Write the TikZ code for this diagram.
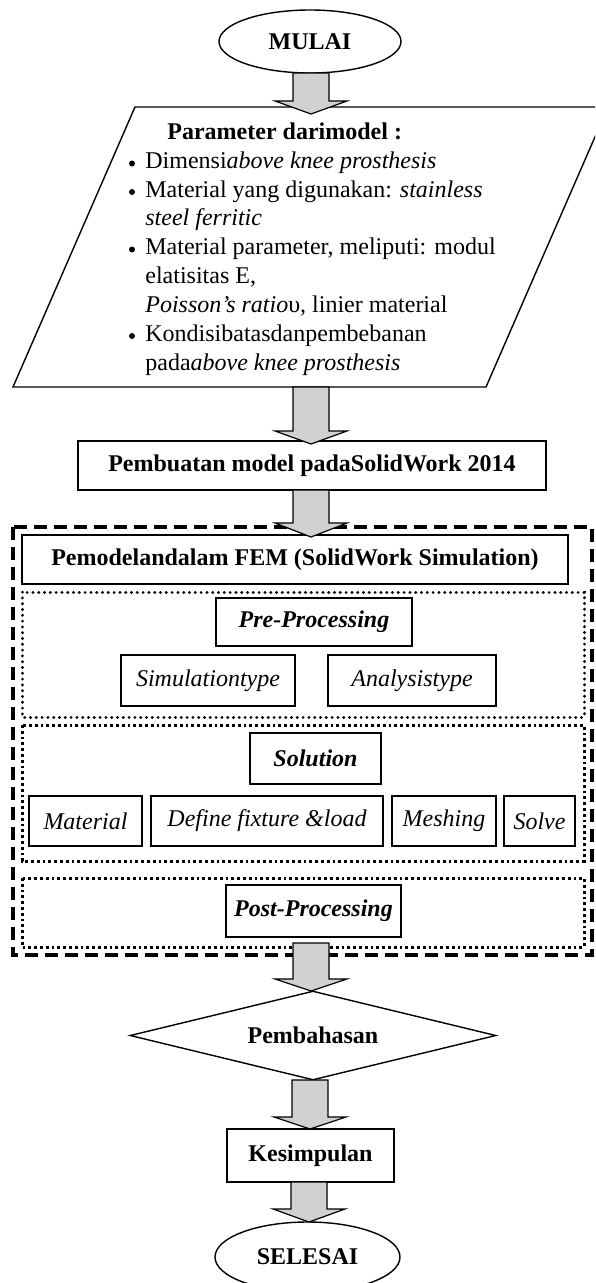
\documentclass[tikz,border=0pt]{standalone}
\usepackage{fontspec}
\setmainfont{Liberation Serif}
\usetikzlibrary{shapes.geometric}
\tikzset{
  x=0.5pt, y=-0.5pt,
  fat/.style={draw, line width=0.6pt, fill=black!18},
  boxline/.style={draw, line width=0.7pt, inner sep=0pt},
  proc/.style={boxline, font=\fontsize{12}{14}\selectfont\bfseries},
  iproc/.style={boxline, font=\fontsize{12}{14}\selectfont\itshape},
  biproc/.style={boxline, font=\fontsize{12}{14}\selectfont\bfseries\itshape},
  term/.style={draw, ellipse, line width=0.7pt, inner sep=0pt, font=\fontsize{12}{14}\selectfont\bfseries},
  lbl/.style={font=\fontsize{12}{14}\selectfont, anchor=base west, inner sep=0pt},
  dashbox/.style={line width=1.6pt, dash pattern=on 6.5pt off 3.5pt},
  rounddots/.style={line width=1.5pt, line cap=round, dash pattern=on 0.1pt off 2.8pt},
  squaredots/.style={line width=1.5pt, dash pattern=on 1.4pt off 1.5pt},
}
% x, y start, y of wings, y tip
\newcommand{\fatarrow}[4]{%
  \draw[fat] (#1-18,#2) -- (#1+18,#2) -- (#1+18,#3) -- (#1+36,#3) -- (#1,#4) -- (#1-36,#3) -- (#1-18,#3) -- cycle;}
\begin{document}
\begin{tikzpicture}
\useasboundingbox (0,0) rectangle (595,1283);
\clip (0,0) rectangle (595,1283);
% start
\node[term, minimum width=91pt, minimum height=31.5pt] (mulai) at (310,41.5) {MULAI};
% parallelogram
\coordinate (pTL) at (135,107);
\coordinate (pTR) at (608,107);
\coordinate (pBR) at (486,387);
\coordinate (pBL) at (13,387);
\draw[line width=0.7pt, fill=white] (pTL) -- (pTR) -- (pBR) -- (pBL) -- cycle;
\node[lbl, font=\fontsize{12}{14}\selectfont\bfseries] (ptitle) at (167,140) {Parameter darimodel :};
\foreach \yy/\tx/\b in {
  162/{Dimensi\textit{above knee prosthesis}}/1,
  190.5/{Material yang digunakan: \textit{stainless}}/1,
  219/{\textit{steel ferritic}}/0,
  248/{Material parameter, meliputi: modul}/1,
  276.5/{elatisitas E,}/0,
  305.5/{\textit{Poisson’s ratio}υ, linier material}/0,
  334.5/{Kondisibatasdanpembebanan}/1,
  363/{pada\textit{above knee prosthesis}}/0}{
  \node[lbl] at (145,\yy+7) {\tx};
  \ifnum\b=1 \fill (132,\yy+1.5) circle (3);\fi
}
% box 2
\node[proc, minimum width=234pt, minimum height=24.5pt] (model) at (312,465.5) {Pembuatan model padaSolidWork 2014};
% dashed container
\draw[dashbox] (13,527) rectangle (592,955);
\node[proc, minimum width=273pt, minimum height=24.5pt] (fem) at (295,559.5) {Pemodelandalam FEM (SolidWork Simulation)};
% dotted pre-processing group
\draw[rounddots] (22,592) rectangle (584,717);
\node[biproc, minimum width=98pt, minimum height=24pt] (pre) at (314,622) {Pre-Processing};
\node[iproc, minimum width=87pt, minimum height=25.5pt] (sim) at (208,680.5) {Simulationtype};
\node[iproc, minimum width=84pt, minimum height=25.5pt] (ana) at (412,680.5) {Analysistype};
% dotted solution group
\draw[squaredots] (22,725) rectangle (584,861);
\node[biproc, minimum width=65.5pt, minimum height=25.5pt] (sol) at (315.5,758.5) {Solution};
\node[iproc, minimum width=56.5pt, minimum height=25pt] (mat) at (85.5,821) {Material};
\node[iproc, minimum width=116pt, minimum height=25pt] (fix) at (267,821) {Define fixture \&load};
\node[iproc, minimum width=52pt, minimum height=25pt] (mesh) at (444,821) {Meshing};
\node[iproc, minimum width=35.5pt, minimum height=25pt] (solve) at (539.5,821) {Solve};
% dotted post-processing group
\draw[squaredots] (22,878) rectangle (584,947);
\node[biproc, minimum width=87.5pt, minimum height=26pt] (post) at (313.5,911) {Post-Processing};
% decision
\node[draw, diamond, aspect=4.11, line width=0.7pt, inner sep=0pt, minimum width=183pt, minimum height=44.5pt, font=\fontsize{12}{14}\selectfont\bfseries] (bahas) at (313,1035.5) {Pembahasan};
% conclusion
\node[proc, minimum width=83.5pt, minimum height=26.5pt] (kes) at (310.5,1155.5) {Kesimpulan};
% end
\node[term, minimum width=92.5pt, minimum height=35pt] (selesai) at (307.5,1257) {SELESAI};
% block arrows
\fatarrow{311}{73}{101}{114}
\fatarrow{311}{387}{431}{444}
\fatarrow{311}{490}{523}{537}
\fatarrow{311}{943}{979}{991}
\fatarrow{310}{1080}{1117}{1129}
\fatarrow{309}{1182}{1209}{1222}
\end{tikzpicture}
\end{document}
